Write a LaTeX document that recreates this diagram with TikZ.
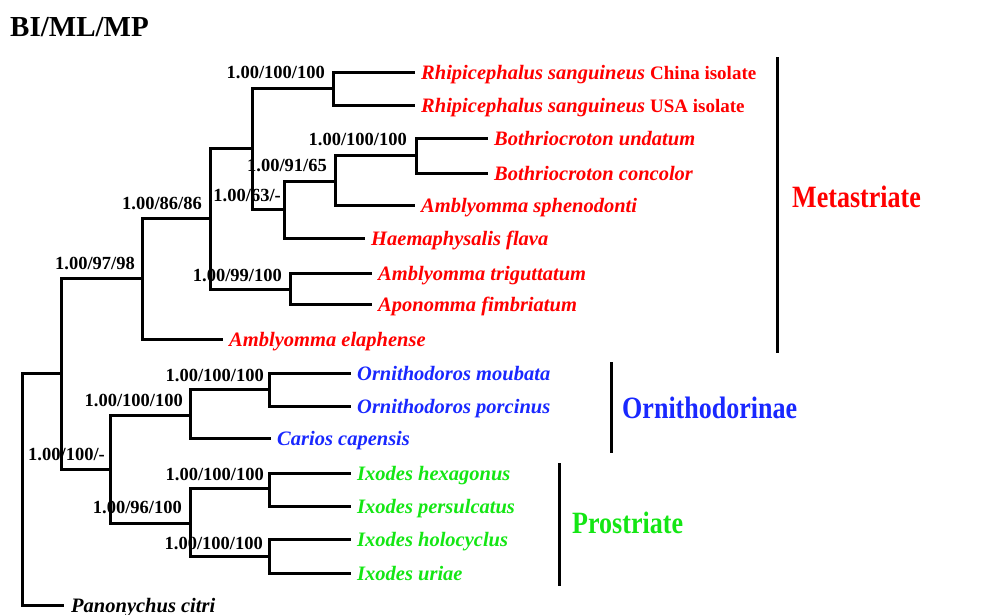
\documentclass[tikz,border=0pt]{standalone}
\usepackage{fontspec}
\setmainfont{Liberation Serif}
\usetikzlibrary{calc}
\definecolor{mred}{RGB}{255,0,0}
\definecolor{mblue}{RGB}{25,40,255}
\definecolor{mgreen}{RGB}{20,230,20}
\tikzset{
  branch/.style={line width=3pt, line cap=rect, line join=miter},
  bar/.style={line width=3pt},
  taxon/.style={anchor=base west, inner sep=0pt, font=\fontsize{20.5}{24}\selectfont\bfseries\itshape},
  boot/.style={anchor=base east, inner sep=0pt, font=\fontsize{18.5}{22}\selectfont\bfseries},
  grp/.style={anchor=base west, inner sep=0pt, font=\fontsize{31}{36}\selectfont\bfseries},
}
\newcommand{\hsq}[1]{\scalebox{0.84}[1]{#1}}
\begin{document}
\begin{tikzpicture}[x=1pt,y=-1pt]
\useasboundingbox (0,0) rectangle (988,614);
% internal nodes
\coordinate (root) at (22,489);
\coordinate (nH) at (61,373);
\coordinate (nG) at (142,278);
\coordinate (nF) at (210,218);
\coordinate (nA) at (252,148);
\coordinate (nRS) at (333,88);
\coordinate (nD) at (284,209);
\coordinate (nC) at (335,181);
\coordinate (nB) at (416,155);
\coordinate (nE) at (290,289);
\coordinate (nK) at (110,469);
\coordinate (nJ) at (190,415);
\coordinate (nI) at (269,389);
\coordinate (nL) at (190,523);
\coordinate (nM) at (269,488);
\coordinate (nN) at (269,556);
% tips
\coordinate (t1) at (413,72);
\coordinate (t2) at (413,105);
\coordinate (t3) at (486,138);
\coordinate (t4) at (486,173);
\coordinate (t5) at (413,205);
\coordinate (t6) at (363,238);
\coordinate (t7) at (370,273);
\coordinate (t8) at (370,304);
\coordinate (t9) at (221,339);
\coordinate (t10) at (349,373);
\coordinate (t11) at (349,406);
\coordinate (t12) at (269,438);
\coordinate (t13) at (349,473);
\coordinate (t14) at (349,506);
\coordinate (t15) at (349,539);
\coordinate (t16) at (349,573);
\coordinate (t17) at (62,605);
% branches
\draw[branch] (root) |- (nH);
\draw[branch] (root) |- (t17);
\draw[branch] (nH) |- (nG);
\draw[branch] (nH) |- (nK);
\draw[branch] (nG) |- (nF);
\draw[branch] (nG) |- (t9);
\draw[branch] (nF) |- (nA);
\draw[branch] (nF) |- (nE);
\draw[branch] (nA) |- (nRS);
\draw[branch] (nA) |- (nD);
\draw[branch] (nRS) |- (t1);
\draw[branch] (nRS) |- (t2);
\draw[branch] (nD) |- (nC);
\draw[branch] (nD) |- (t6);
\draw[branch] (nC) |- (nB);
\draw[branch] (nC) |- (t5);
\draw[branch] (nB) |- (t3);
\draw[branch] (nB) |- (t4);
\draw[branch] (nE) |- (t7);
\draw[branch] (nE) |- (t8);
\draw[branch] (nK) |- (nJ);
\draw[branch] (nK) |- (nL);
\draw[branch] (nJ) |- (nI);
\draw[branch] (nJ) |- (t12);
\draw[branch] (nI) |- (t10);
\draw[branch] (nI) |- (t11);
\draw[branch] (nL) |- (nM);
\draw[branch] (nL) |- (nN);
\draw[branch] (nM) |- (t13);
\draw[branch] (nM) |- (t14);
\draw[branch] (nN) |- (t15);
\draw[branch] (nN) |- (t16);
% title
\node[anchor=base west, inner sep=0pt, font=\fontsize{29}{34}\selectfont\bfseries] (title) at (10,36) {BI/ML/MP};
% taxon labels
\node[taxon, text=mred] (L1) at ($(t1)+(8,7)$) {Rhipicephalus sanguineus \upshape\fontsize{19}{22}\selectfont China isolate};
\node[taxon, text=mred] (L2) at ($(t2)+(8,7)$) {Rhipicephalus sanguineus \upshape\fontsize{19}{22}\selectfont USA isolate};
\node[taxon, text=mred] (L3) at ($(t3)+(8,7)$) {Bothriocroton undatum};
\node[taxon, text=mred] (L4) at ($(t4)+(8,7)$) {Bothriocroton concolor};
\node[taxon, text=mred] (L5) at ($(t5)+(8,7)$) {Amblyomma sphenodonti};
\node[taxon, text=mred] (L6) at ($(t6)+(8,7)$) {Haemaphysalis flava};
\node[taxon, text=mred] (L7) at ($(t7)+(8,7)$) {Amblyomma triguttatum};
\node[taxon, text=mred] (L8) at ($(t8)+(8,7)$) {Aponomma fimbriatum};
\node[taxon, text=mred] (L9) at ($(t9)+(8,7)$) {Amblyomma elaphense};
\node[taxon, text=mblue] (L10) at ($(t10)+(8,7)$) {Ornithodoros moubata};
\node[taxon, text=mblue] (L11) at ($(t11)+(8,7)$) {Ornithodoros porcinus};
\node[taxon, text=mblue] (L12) at ($(t12)+(8,7)$) {Carios capensis};
\node[taxon, text=mgreen] (L13) at ($(t13)+(8,7)$) {Ixodes hexagonus};
\node[taxon, text=mgreen] (L14) at ($(t14)+(8,7)$) {Ixodes persulcatus};
\node[taxon, text=mgreen] (L15) at ($(t15)+(8,7)$) {Ixodes holocyclus};
\node[taxon, text=mgreen] (L16) at ($(t16)+(8,7)$) {Ixodes uriae};
\node[taxon] (L17) at ($(t17)+(9,7)$) {Panonychus citri};
% support values
\node[boot] (b1) at (325,78) {1.00/100/100};
\node[boot] (b2) at (407,145) {1.00/100/100};
\node[boot] (b3) at (327,171) {1.00/91/65};
\node[boot] (b4) at (281,201) {1.00/63/-};
\node[boot] (b5) at (202,209) {1.00/86/86};
\node[boot] (b6) at (135,269) {1.00/97/98};
\node[boot] (b7) at (282,281) {1.00/99/100};
\node[boot] (b8) at (264,381) {1.00/100/100};
\node[boot] (b9) at (183,406) {1.00/100/100};
\node[boot] (b10) at (105,460) {1.00/100/-};
\node[boot] (b11) at (264,480) {1.00/100/100};
\node[boot] (b12) at (182,513) {1.00/96/100};
\node[boot] (b13) at (263,549) {1.00/100/100};
% group bars
\coordinate (m1) at (777,57);
\coordinate (m2) at (777,353);
\coordinate (o1) at (611,362);
\coordinate (o2) at (611,453);
\coordinate (p1) at (559,463);
\coordinate (p2) at (559,586);
\draw[bar] (m1) -- (m2);
\draw[bar] (o1) -- (o2);
\draw[bar] (p1) -- (p2);
\node[grp, text=mred] (gM) at (792,207) {\hsq{Metastriate}};
\node[grp, text=mblue] (gO) at (622,418) {\hsq{Ornithodorinae}};
\node[grp, text=mgreen] (gP) at (572,533) {\hsq{Prostriate}};
\end{tikzpicture}
\end{document}
